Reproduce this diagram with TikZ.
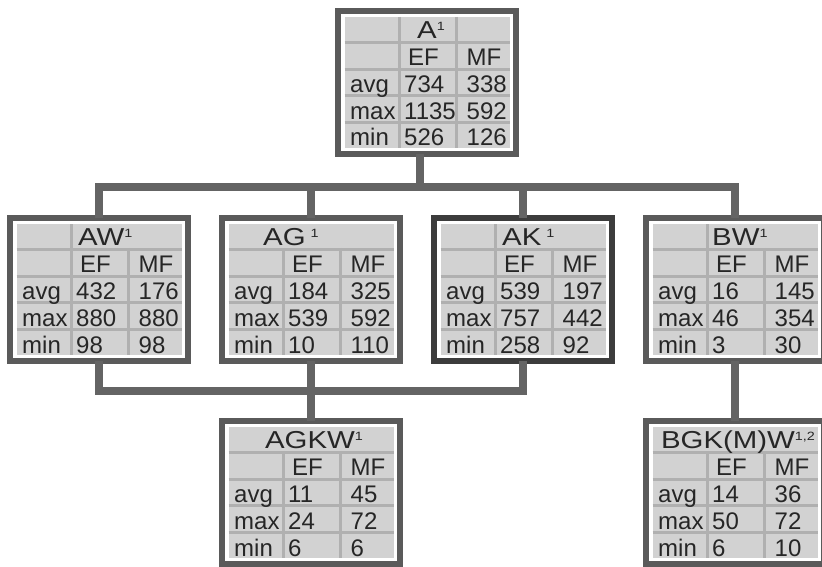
\documentclass[tikz,border=0pt]{standalone}
\usepackage{fontspec}
\setmainfont{Liberation Sans}
\newfontfamily\titlefont[FakeStretch=1.2]{Liberation Sans}
\usetikzlibrary{positioning}

\definecolor{framegray}{HTML}{5A5A5A}
\definecolor{framedark}{HTML}{3C3C3C}
\definecolor{cellgray}{HTML}{D2D2D2}
\definecolor{rulegray}{HTML}{B0B0B0}
\definecolor{linkgray}{HTML}{646464}

\newcommand{\supmark}[1]{\raisebox{8.5pt}{\fontsize{12}{12}\selectfont #1}}

% table body of one box: #1 box, #2/#3 top of the two column rules, #4 rows
\newcommand{\statgrid}[4]{%
  \begin{scope}[shift={(#1.north west)}]
    \fill[cellgray] (6.5,6) rectangle (171.5,137);
    \foreach \ry in {31.3,58.1,84.9,111.7}
      \draw[rule] (6.5,\ry) -- (171.5,\ry);
    \draw[rule] (61.5,#2) -- (61.5,137);
    \draw[rule] (118,#3) -- (118,137);
    \node[cell] (#1-ef) at (70,54.6) {EF};
    \node[cell] (#1-mf) at (128.5,54.6) {MF};
    \foreach \lab/\ef/\mf [count=\r from 2] in {#4}{
      \node[cell] (#1-\r-a) at (12,27.8+26.8*\r) {\lab};
      \node[cell] (#1-\r-b) at (66,27.8+26.8*\r) {\ef};
      \node[cell] (#1-\r-c) at (128.5,27.8+26.8*\r) {\mf};
    }
  \end{scope}}

\begin{document}
\begin{tikzpicture}[x=1pt, y=-1pt,
    node distance=60pt and 34pt,
    frame/.style={draw=framegray, line width=6pt, fill=white, minimum width=178pt, minimum height=143pt, inner sep=0pt, outer sep=0pt},
    cell/.style={anchor=base west, inner sep=0pt, font=\fontsize{24}{24}\selectfont, text=black!85},
    head/.style={anchor=base west, inner sep=0pt, font=\titlefont\fontsize{24.5}{24}\selectfont, text=black!85},
    rule/.style={draw=rulegray, line width=3pt},
    link/.style={draw=linkgray, line width=8pt}
]
    \useasboundingbox (0,0) rectangle (822,567);

    % TOP BOX
    \node (A) [frame, anchor=north west] at (338,11) {};

    % MIDDLE ROW
    \node (AW) [frame, anchor=north west] at (10,218) {};
    \node (AG) [frame, right=of AW] {};
    \node (AK) [frame, right=of AG, draw=framedark] {};
    \node (BW) [frame, right=of AK] {};

    % BOTTOM ROW
    \node (AGKW) [frame, below=of AG] {};
    \node (BGKMW) [frame, below=of BW] {};

    % TABLES
    \statgrid{A}{6}{6}{avg/734/338, max/1135/592, min/526/126}
    \statgrid{AW}{6}{29.8}{avg/432/176, max/880/880, min/98/98}
    \statgrid{AG}{29.8}{29.8}{avg/184/325, max/539/592, min/10/110}
    \statgrid{AK}{6}{29.8}{avg/539/197, max/757/442, min/258/92}
    \statgrid{BW}{6}{29.8}{avg/16/145, max/46/354, min/3/30}
    \statgrid{AGKW}{29.8}{29.8}{avg/11/45, max/24/72, min/6/6}
    \statgrid{BGKMW}{29.8}{29.8}{avg/14/36, max/50/72, min/6/10}

    % TITLES
    \node (A-t) [head] at ([shift={(79,27.8)}]A.north west) {A\supmark{1}};
    \node (AW-t) [head] at ([shift={(68,27.8)}]AW.north west) {AW\supmark{1}};
    \node (AG-t) [head] at ([shift={(41,27.8)}]AG.north west) {AG\hspace{5pt}\supmark{1}};
    \node (AK-t) [head] at ([shift={(68,27.8)}]AK.north west) {AK\hspace{5pt}\supmark{1}};
    \node (BW-t) [head] at ([shift={(66,27.8)}]BW.north west) {BW\supmark{1}};
    \node (AGKW-t) [head, anchor=base] at ([shift={(92,27.8)}]AGKW.north west) {AGKW\supmark{1}};
    \node (BGKMW-t) [head, anchor=base] at ([shift={(92,27.8)}]BGKMW.north west) {BGK(M)W\supmark{1,2}};

    % CONNECTORS
    \coordinate (busA) at (0,187);
    \coordinate (busB) at (0,391);
    \draw[link] ([xshift=-7pt]A.south) -- ([xshift=-7pt]A.south |- busA);
    \draw[link] (AW.north) -- (AW.north |- busA) -- (BW.north |- busA) -- (BW.north);
    \draw[link] (AG.north) -- (AG.north |- busA);
    \draw[link] (AK.north) -- (AK.north |- busA);
    \draw[link] (AW.south) -- (AW.south |- busB) -- (AK.south |- busB) -- (AK.south);
    \draw[link] (AG.south) -- (AGKW.north);
    \draw[link] (BW.south) -- (BGKMW.north);

\end{tikzpicture}
\end{document}
